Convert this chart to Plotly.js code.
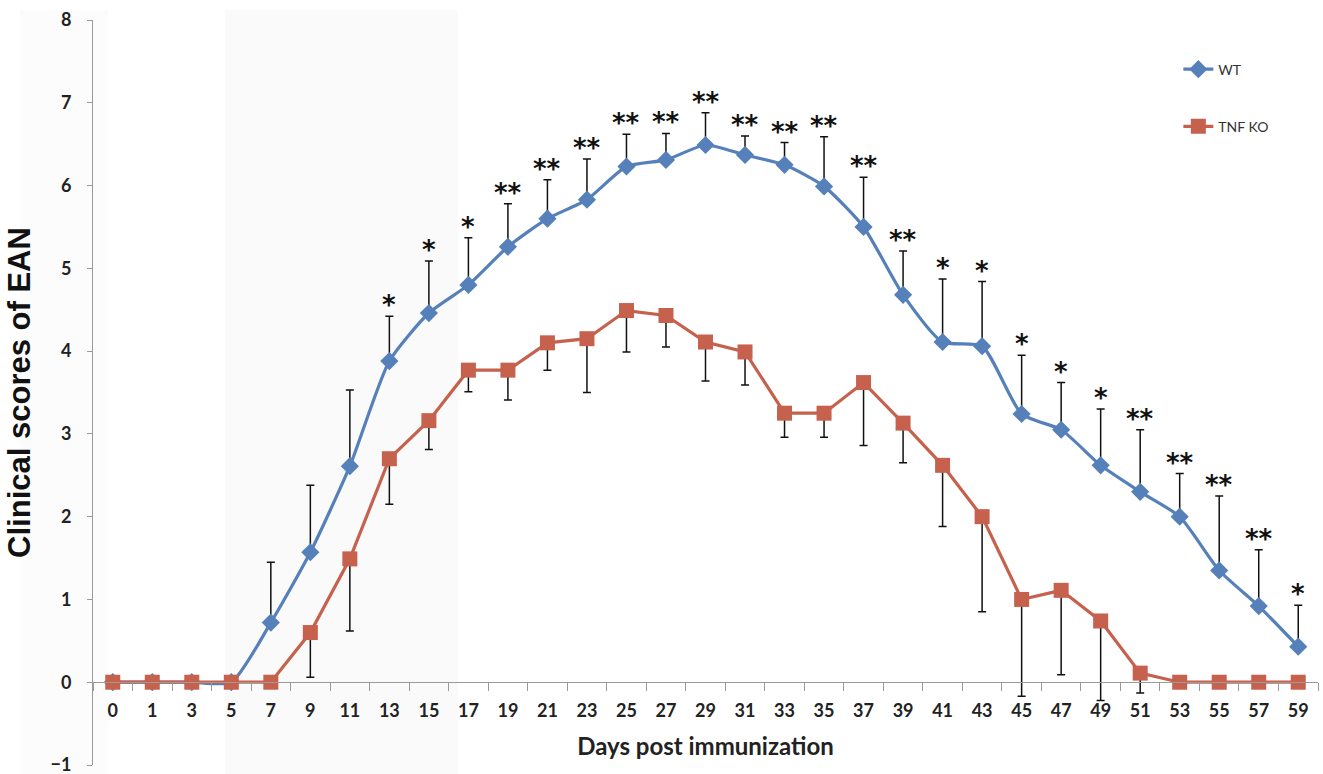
<!DOCTYPE html>
<html>
<head>
<meta charset="utf-8">
<script src="https://cdn.plot.ly/plotly-3.0.1.min.js"></script>
<style>html,body{margin:0;padding:0;background:#fff;}#chart{width:1323px;height:774px;}</style>
</head>
<body>
<div id="chart"></div>
<script>
// ---- data ----
var days = [0,1,3,5,7,9,11,13,15,17,19,21,23,25,27,29,31,33,35,37,39,41,43,45,47,49,51,53,55,57,59];
var wtScores = [0,0,0,0,0.72,1.57,2.61,3.88,4.46,4.80,5.26,5.60,5.83,6.23,6.31,6.49,6.37,6.25,5.99,5.50,4.68,4.11,4.06,3.24,3.05,2.62,2.30,2.00,1.35,0.92,0.43];
var wtErrUp = [null,null,null,null,0.73,0.81,0.92,0.54,0.63,0.57,0.52,0.47,0.49,0.39,0.32,0.39,0.23,0.27,0.60,0.60,0.53,0.76,0.78,0.71,0.57,0.68,0.75,0.52,0.90,0.68,0.50];
var koScores = [0,0,0,0,0,0.60,1.49,2.70,3.16,3.77,3.77,4.10,4.15,4.49,4.43,4.11,3.99,3.25,3.25,3.62,3.13,2.62,2.00,1.00,1.11,0.74,0.11,0,0,0,0];
var koErrDown = [null,null,null,null,null,0.54,0.87,0.55,0.35,0.26,0.36,0.33,0.65,0.50,0.38,0.47,0.40,0.29,0.29,0.76,0.48,0.74,1.15,1.17,1.02,0.96,0.24,null,null,null,null];
var significance = ["","","","","","","","*","*","*","**","**","**","**","**","**","**","**","**","**","**","*","*","*","*","*","**","**","**","**","*"];
var seriesNames = ["WT", "TNF KO"];
var xTitle = "Days post immunization";
var yTitle = "Clinical scores of EAN";
var yTickValues = [-1,0,1,2,3,4,5,6,7,8];

// ---- chart ----
var cats = days.map(String);
var zeros = days.map(function(){return 0;});
var blue = "#5580b9", red = "#c6614d";

var traceWT = {
  type: "scatter", mode: "lines+markers", name: seriesNames[0], x: cats, y: wtScores,
  line: {color: blue, width: 3.2, shape: "spline", smoothing: 0.6},
  marker: {symbol: "diamond", size: 14, color: blue},
  error_y: {type: "data", symmetric: false, array: wtErrUp, arrayminus: zeros, color: "#111", thickness: 1.5, width: 4},
  legendgroup: "a"
};
var traceKO = {
  type: "scatter", mode: "lines+markers", name: seriesNames[1], x: cats, y: koScores,
  line: {color: red, width: 3.2},
  marker: {symbol: "square", size: 15, color: red},
  error_y: {type: "data", symmetric: false, array: zeros, arrayminus: koErrDown, color: "#111", thickness: 1.5, width: 4},
  legendgroup: "b"
};

var annotations = [];
for (var i = 0; i < cats.length; i++) {
  if (!significance[i]) continue;
  annotations.push({
    x: i, y: wtScores[i] + (wtErrUp[i] || 0), xref: "x", yref: "y",
    text: significance[i], showarrow: false, yanchor: "bottom", yshift: -6,
    font: {family: "DejaVu Sans", size: 26, color: "#111", weight: "bold"}
  });
}

var tickFont = {family: "Lato, 'Open Sans', sans-serif", size: 18, color: "#222", weight: "bold"};

var layout = {
  width: 1323, height: 774,
  margin: {l: 93, r: 5, t: 20, b: 9},
  paper_bgcolor: "#ffffff", plot_bgcolor: "rgba(0,0,0,0)",
  showlegend: true,
  legend: {x: 0.886, y: 0.955, xanchor: "left", yanchor: "top", tracegroupgap: 36,
           font: {family: "Lato, 'Open Sans', sans-serif", size: 14, color: "#333"}, bgcolor: "rgba(0,0,0,0)"},
  xaxis: {
    type: "category", range: [-0.5, cats.length - 0.5], anchor: "free", position: 0.1114,
    showline: true, linecolor: "#9a9a9a", linewidth: 1, showgrid: false, zeroline: false,
    ticks: "outside", tickson: "boundaries", ticklen: 8, tickcolor: "#9a9a9a",
    ticklabelstandoff: 12, tickfont: tickFont,
    title: {text: xTitle, font: {family: "Lato, 'Open Sans', sans-serif", size: 24, color: "#222", weight: "bold"}, standoff: 18}
  },
  yaxis: {
    range: [-1, 8], tickvals: yTickValues, showline: true, linecolor: "#9a9a9a", linewidth: 1, showgrid: false, zeroline: false,
    ticks: "outside", ticklen: 5, tickcolor: "#9a9a9a", ticklabelstandoff: 12, tickfont: tickFont,
    ticklabeloverflow: "allow",
    title: {text: yTitle, font: {family: "Liberation Sans, Arial, sans-serif", size: 31, color: "#111", weight: "bold"}, standoff: 10}
  },
  shapes: [
    {type: "rect", layer: "below", xref: "paper", yref: "paper", x0: 0.1078, x1: 0.298, y0: -0.02, y1: 1.013,
     fillcolor: "#fafafa", line: {width: 0}},
    {type: "rect", layer: "below", xref: "paper", yref: "paper", x0: -0.0596, x1: 0.0122, y0: -0.02, y1: 1.013,
     fillcolor: "#fcfcfc", line: {width: 0}}
  ],
  annotations: annotations
};

Plotly.newPlot("chart", [traceWT, traceKO], layout, {displayModeBar: false, staticPlot: true});
</script>
</body>
</html>
